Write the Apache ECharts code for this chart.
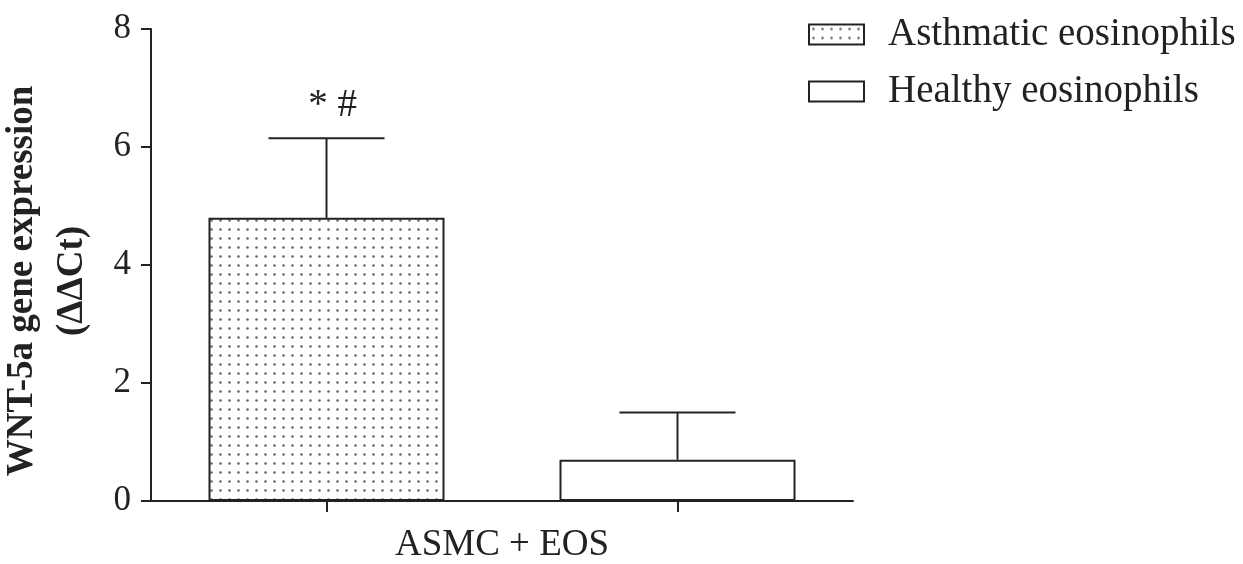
<!DOCTYPE html>
<html><head><meta charset="utf-8">
<script src="https://cdn.jsdelivr.net/npm/echarts@6/dist/echarts.min.js"></script>
<style>html,body{margin:0;padding:0;background:#fff}#c{width:1243px;height:564px}</style>
</head><body><div id="c"></div>
<script>
const categories = ['Asthmatic', 'Healthy'];
const seriesNames = ['Asthmatic eosinophils', 'Healthy eosinophils'];
const asthmaticValues = [4.8, '-'];
const healthyValues = ['-', 0.7];
const errorUpper = [6.15, 1.5];
const means = [4.8, 0.7];
const annotations = ['* #', ''];
const yTicks = [0, 2, 4, 6, 8];

const cv = document.createElement('canvas');
cv.width = 9; cv.height = 9;
const cx = cv.getContext('2d');
cx.fillStyle = '#fff'; cx.fillRect(0,0,9,9);
cx.fillStyle = '#666';
cx.beginPath(); cx.arc(4.5,4.5,1.3,0,Math.PI*2); cx.fill();
const dotPattern = { image: cv, repeat: 'repeat' };

const font = 'Liberation Serif';
const ink = '#222';
const errData = categories.map((c,i)=>[i, means[i], errorUpper[i], annotations[i]]);

const chart = echarts.init(document.getElementById('c'));
chart.setOption({
  animation: false,
  backgroundColor: '#fff',
  grid: { left: 151, right: 390, top: 29, bottom: 63, containLabel: false, outerBoundsMode: 'none' },
  legend: {
    data: seriesNames.map(n => ({ name: n, icon: 'rect' })),
    orient: 'vertical',
    left: 803, top: 10,
    itemWidth: 55, itemHeight: 20, itemGap: 18,
    textStyle: { fontFamily: font, fontSize: 39, color: ink, padding: [0,0,0,19] },
    selectedMode: false
  },
  xAxis: {
    type: 'category', data: categories,
    axisLine: { show: true, lineStyle: { color: ink, width: 2 } },
    axisTick: { show: true, alignWithLabel: true, interval: 0, length: 11, lineStyle: { color: ink, width: 2 } },
    axisLabel: { show: true, interval: 0, formatter: () => '' },
    name: 'ASMC + EOS', nameLocation: 'middle', nameGap: 26,
    nameTextStyle: { fontFamily: font, fontSize: 37, color: ink }
  },
  yAxis: {
    type: 'value', min: yTicks[0], max: yTicks[yTicks.length-1], interval: 2,
    axisLine: { show: true, lineStyle: { color: ink, width: 2 } },
    axisTick: { show: true, length: 10, lineStyle: { color: ink, width: 2 } },
    splitLine: { show: false },
    axisLabel: { fontFamily: font, fontSize: 35, color: ink, margin: 20 },
    name: 'WNT-5a gene expression\n(ΔΔCt)', nameLocation: 'middle', nameRotate: 90, nameGap: 54,
    nameTextStyle: { fontFamily: font, fontSize: 37, fontWeight: 'bold', color: ink, lineHeight: 50, padding: [0, 32, 0, 0] }
  },
  series: [
    { name: seriesNames[0], type: 'bar', data: asthmaticValues, barWidth: 236, barGap: '-100%',
      itemStyle: { color: dotPattern, borderColor: ink, borderWidth: 2 } },
    { name: seriesNames[1], type: 'bar', data: healthyValues, barWidth: 236, barGap: '-100%',
      itemStyle: { color: '#fff', borderColor: ink, borderWidth: 2 } },
    { type: 'custom', name: 'err', data: errData, z: 10,
      renderItem: function(params, api){
        const b = api.coord([api.value(0), api.value(1)]);
        const t = api.coord([api.value(0), api.value(2)]);
        const half = 58;
        const st = { stroke: ink, lineWidth: 2 };
        const children = [
          { type: 'line', shape: { x1: b[0], y1: b[1], x2: t[0], y2: t[1] }, style: st },
          { type: 'line', shape: { x1: t[0]-half, y1: t[1], x2: t[0]+half, y2: t[1] }, style: st }
        ];
        const txt = annotations[params.dataIndex];
        if (txt) children.push({ type: 'text', style: { text: txt, x: t[0]+6, y: t[1]-13,
          textAlign: 'center', textVerticalAlign: 'bottom', font: '39px "Liberation Serif"', fill: ink } });
        return { type: 'group', children };
      }
    }
  ]
});
</script></body></html>
